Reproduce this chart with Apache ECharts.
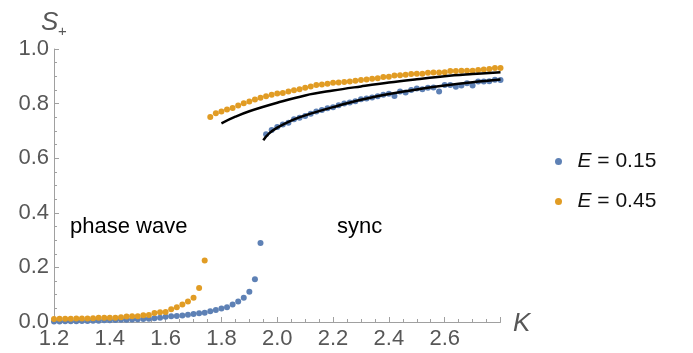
<!DOCTYPE html>
<html>
<head>
<meta charset="utf-8">
<script src="https://cdn.jsdelivr.net/npm/echarts@6.0.0/dist/echarts.min.js"></script>
<style>
  html, body { margin: 0; padding: 0; background: #fff; }
  #chart { width: 693px; height: 353px; }
</style>
</head>
<body>
<div id="chart"></div>
<script>
// coupling strength K, shared by both simulated series (step 0.02)
const kValues = [
  1.20, 1.22, 1.24, 1.26, 1.28, 1.30, 1.32, 1.34, 1.36, 1.38,
  1.40, 1.42, 1.44, 1.46, 1.48, 1.50, 1.52, 1.54, 1.56, 1.58,
  1.60, 1.62, 1.64, 1.66, 1.68, 1.70, 1.72, 1.74, 1.76, 1.78,
  1.80, 1.82, 1.84, 1.86, 1.88, 1.90, 1.92, 1.94, 1.96, 1.98,
  2.00, 2.02, 2.04, 2.06, 2.08, 2.10, 2.12, 2.14, 2.16, 2.18,
  2.20, 2.22, 2.24, 2.26, 2.28, 2.30, 2.32, 2.34, 2.36, 2.38,
  2.40, 2.42, 2.44, 2.46, 2.48, 2.50, 2.52, 2.54, 2.56, 2.58,
  2.60, 2.62, 2.64, 2.66, 2.68, 2.70, 2.72, 2.74, 2.76, 2.78,
  2.80
]

// S+ for E = 0.15 (phase wave branch up to K = 1.94, then sync)
const sBlue = [
  0.002, 0.002, 0.003, 0.003, 0.003, 0.004, 0.004, 0.005, 0.005, 0.006,
  0.006, 0.007, 0.008, 0.008, 0.009, 0.010, 0.011, 0.012, 0.014, 0.016,
  0.019, 0.021, 0.022, 0.024, 0.027, 0.029, 0.032, 0.034, 0.039, 0.044,
  0.049, 0.054, 0.064, 0.075, 0.089, 0.111, 0.157, 0.289,
  0.688, 0.703, 0.714, 0.723, 0.730, 0.743, 0.748, 0.755, 0.763, 0.771,
  0.777, 0.783, 0.787, 0.794, 0.800, 0.804, 0.809, 0.816, 0.819, 0.822,
  0.827, 0.832, 0.836, 0.828, 0.844, 0.841, 0.850, 0.855, 0.853, 0.858,
  0.859, 0.844, 0.868, 0.868, 0.862, 0.866, 0.875, 0.866, 0.881, 0.881,
  0.882, 0.887, 0.886
]

// S+ for E = 0.45 (phase wave branch up to K = 1.74, then sync)
const sOrange = [
  0.011, 0.012, 0.012, 0.012, 0.013, 0.013, 0.013, 0.014, 0.016, 0.016,
  0.016, 0.016, 0.017, 0.020, 0.021, 0.021, 0.025, 0.026, 0.033, 0.036,
  0.037, 0.047, 0.054, 0.064, 0.075, 0.089, 0.125, 0.225,
  0.751, 0.765, 0.771, 0.778, 0.784, 0.793, 0.801, 0.808, 0.815, 0.821,
  0.827, 0.832, 0.837, 0.839, 0.844, 0.849, 0.853, 0.858, 0.863, 0.868,
  0.870, 0.873, 0.876, 0.877, 0.879, 0.881, 0.884, 0.886, 0.888, 0.891,
  0.893, 0.897, 0.898, 0.903, 0.904, 0.906, 0.908, 0.909, 0.909, 0.913,
  0.914, 0.914, 0.915, 0.919, 0.919, 0.920, 0.920, 0.920, 0.923, 0.925,
  0.927, 0.930, 0.930
]

// theory curves (black)
const theoryHighK = [1.80, 1.85, 1.90, 2.00, 2.10, 2.20, 2.30, 2.40, 2.50, 2.60, 2.70, 2.80]
const theoryHighS = [0.728, 0.752, 0.772, 0.803, 0.830, 0.848, 0.863, 0.877, 0.889, 0.900, 0.908, 0.915]
const theoryLowK = [1.95, 1.97, 2.00, 2.05, 2.10, 2.20, 2.30, 2.40, 2.50, 2.60, 2.70, 2.80]
const theoryLowS = [0.666, 0.690, 0.712, 0.738, 0.757, 0.787, 0.814, 0.835, 0.852, 0.866, 0.878, 0.888]

const xTicks = { min: 1.2, max: 2.8, step: 0.2 }
const yTicks = { min: 0, max: 1, step: 0.2 }
const seriesNames = ['E = 0.15', 'E = 0.45']

const colors = {
  blue: '#5e81b5',
  orange: '#e19c24',
  axis: '#a0a0a0',
  label: '#575757',
}
const font = '"Liberation Sans", Arial, Helvetica, sans-serif'

const pairs = (xs, ys) => xs.map((x, i) => [x, ys[i]])

const axisCommon = {
  type: 'value',
  axisLine: { show: true, onZero: false, lineStyle: { color: colors.axis, width: 1 } },
  axisTick: { show: true, inside: true, length: 5, lineStyle: { color: colors.axis } },
  minorTick: { show: true, splitNumber: 4, length: 3, lineStyle: { color: colors.axis } },
  splitLine: { show: false },
  minorSplitLine: { show: false },
}

const chart = echarts.init(document.getElementById('chart'), null, { renderer: 'canvas' })

chart.setOption({
  animation: false,
  backgroundColor: '#fff',
  textStyle: { fontFamily: font },
  grid: { left: 54, right: 192.5, top: 49, bottom: 31, containLabel: false },
  xAxis: {
    ...axisCommon,
    min: xTicks.min,
    max: xTicks.max,
    interval: xTicks.step,
    axisLabel: {
      fontSize: 22,
      color: colors.label,
      fontFamily: font,
      margin: 6,
      formatter: (v) => (v > 2.79 ? '' : v.toFixed(1)),
    },
  },
  yAxis: {
    ...axisCommon,
    min: yTicks.min,
    max: yTicks.max,
    interval: yTicks.step,
    axisLabel: {
      fontSize: 22,
      color: colors.label,
      fontFamily: font,
      margin: 5,
      formatter: (v) => v.toFixed(1),
    },
  },
  legend: {
    data: seriesNames,
    orient: 'vertical',
    left: 550,
    top: 146,
    icon: 'circle',
    itemWidth: 18,
    itemHeight: 7,
    itemGap: 19,
    formatter: (name) => '{i|E}{t|' + name.slice(1) + '}',
    textStyle: {
      padding: [0, 0, 0, 5],
      rich: {
        i: { fontStyle: 'italic', fontSize: 21, color: '#111', fontFamily: font, lineHeight: 22 },
        t: { fontSize: 21, color: '#111', fontFamily: font, lineHeight: 22 },
      },
    },
  },
  graphic: [
    { type: 'text', x: 41, y: 10, style: { text: 'S', font: 'italic 26px ' + font, fill: colors.label } },
    { type: 'text', x: 58, y: 24, style: { text: '+', font: '15px ' + font, fill: colors.label } },
    { type: 'text', x: 513, y: 311, style: { text: 'K', font: 'italic 26px ' + font, fill: colors.label } },
    { type: 'text', x: 70, y: 216, style: { text: 'phase wave', font: '22px ' + font, fill: '#000' } },
    { type: 'text', x: 337, y: 216, style: { text: 'sync', font: '22px ' + font, fill: '#000' } },
  ],
  series: [
    {
      name: seriesNames[0],
      type: 'scatter',
      symbol: 'circle',
      symbolSize: 6,
      itemStyle: { color: colors.blue, opacity: 1 },
      data: pairs(kValues, sBlue),
      z: 2,
    },
    {
      name: seriesNames[1],
      type: 'scatter',
      symbol: 'circle',
      symbolSize: 6,
      itemStyle: { color: colors.orange, opacity: 1 },
      data: pairs(kValues, sOrange),
      z: 2,
    },
    {
      name: 'theory high',
      type: 'line',
      smooth: 0.4,
      showSymbol: false,
      lineStyle: { color: '#000', width: 2.5 },
      data: pairs(theoryHighK, theoryHighS),
      z: 3,
    },
    {
      name: 'theory low',
      type: 'line',
      smooth: 0.4,
      showSymbol: false,
      lineStyle: { color: '#000', width: 2.5 },
      data: pairs(theoryLowK, theoryLowS),
      z: 3,
    },
  ],
})
</script>
</body>
</html>
